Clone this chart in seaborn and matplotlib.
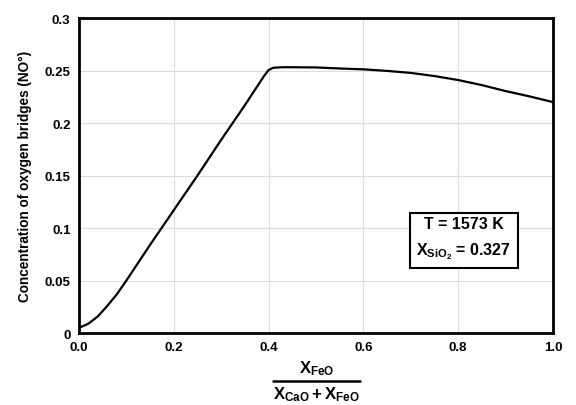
import numpy as np
import pandas as pd
import matplotlib
matplotlib.use('Agg')
import matplotlib.pyplot as plt
import seaborn as sns

# 数据
x_feo = [0.0, 0.02, 0.04, 0.06, 0.08, 0.10, 0.15, 0.20, 0.25, 0.30, 0.35, 0.39, 0.40,
         0.41, 0.43, 0.45, 0.50, 0.55, 0.60, 0.65, 0.70, 0.75, 0.80, 0.85, 0.90, 0.95, 1.0]
no_conc = [0.005, 0.009, 0.016, 0.026, 0.037, 0.050, 0.084, 0.117, 0.150, 0.184, 0.217, 0.2445, 0.2505,
           0.2527, 0.2532, 0.2532, 0.253, 0.252, 0.2512, 0.2497, 0.2478, 0.2448, 0.241, 0.2362, 0.2305, 0.2255, 0.220]
x_ticks = [0.0, 0.2, 0.4, 0.6, 0.8, 1.0]
x_ticklabels = ['0.0', '0.2', '0.4', '0.6', '0.8', '1.0']
y_ticks = [0, 0.05, 0.1, 0.15, 0.2, 0.25, 0.3]
y_ticklabels = ['0', '0.05', '0.1', '0.15', '0.2', '0.25', '0.3']

sns.set_style('whitegrid')
plt.rcParams['font.family'] = ['Liberation Sans', 'DejaVu Sans']
plt.rcParams['font.weight'] = 'bold'
plt.rcParams['text.color'] = 'black'
plt.rcParams['axes.labelcolor'] = 'black'
plt.rcParams['xtick.color'] = 'black'
plt.rcParams['ytick.color'] = 'black'
plt.rcParams['mathtext.fontset'] = 'custom'
plt.rcParams['mathtext.rm'] = 'Liberation Sans:bold'
plt.rcParams['mathtext.bf'] = 'Liberation Sans:bold'
plt.rcParams['mathtext.it'] = 'Liberation Sans:bold'

df = pd.DataFrame({'x': x_feo, 'y': no_conc})

fig = plt.figure(figsize=(5.76, 4.06), dpi=100)
ax = fig.add_axes([0.137, 0.177, 0.823, 0.776])
sns.lineplot(data=df, x='x', y='y', color='black', linewidth=1.6, ax=ax)

ax.set_xlim(0, 1)
ax.set_ylim(0, 0.3)
ax.set_xticks(x_ticks)
ax.set_xticklabels(x_ticklabels)
ax.set_yticks(y_ticks)
ax.set_yticklabels(y_ticklabels)
ax.tick_params(length=0, labelsize=9.5, pad=6, colors='black')
for lbl in ax.get_xticklabels() + ax.get_yticklabels():
    lbl.set_fontweight('bold')
ax.grid(True, color='#dddddd', linewidth=0.8)
for sp in ax.spines.values():
    sp.set_color('black')
    sp.set_linewidth(2)

ax.set_xlabel('')
ax.set_ylabel('Concentration of oxygen bridges (NO°)', fontsize=9.8, fontweight='bold', labelpad=9)

# 横轴分式标签
fig.text(0.549, 1 - 369 / 406, r'$\mathrm{X_{FeO}}$', ha='center', va='center', fontsize=12)
fig.text(0.549, 1 - 395 / 406, r'$\mathrm{X_{CaO}+X_{FeO}}$', ha='center', va='center', fontsize=12)
fig.add_artist(plt.Line2D([273 / 576, 360 / 576], [1 - 382 / 406, 1 - 382 / 406],
                          color='black', linewidth=1.8, transform=fig.transFigure))

# 条件标注框
ax.text(0.812, 0.30, 'T = 1573 K\n' + r'$\mathrm{X_{SiO_2}}$' + ' = 0.327', transform=ax.transAxes,
        ha='center', va='center', fontsize=11.5, fontweight='bold', linespacing=1.7,
        bbox=dict(boxstyle='square,pad=0.4', facecolor='white', edgecolor='black', linewidth=1.5))

plt.savefig('out.png', dpi=100)
